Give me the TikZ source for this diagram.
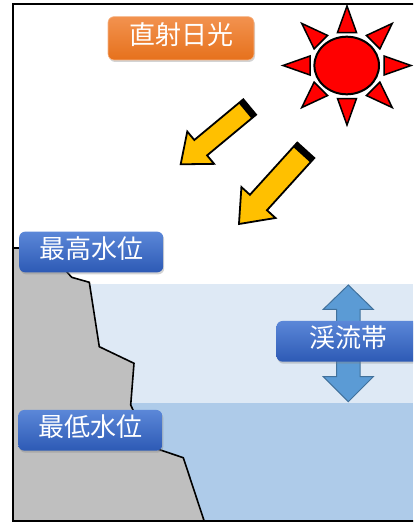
\documentclass[tikz,border=0pt]{standalone}
\usepackage{fontspec}
\newfontfamily\jpfont{Noto Sans CJK JP}
\usetikzlibrary{shadows}

\definecolor{waterlight}{HTML}{DEE9F5}
\definecolor{waterdark}{HTML}{AECBE9}
\definecolor{rock}{HTML}{BFBFBF}
\definecolor{tagtop}{HTML}{5B87D8}
\definecolor{tagbot}{HTML}{2D5AB5}
\definecolor{sunsetop}{HTML}{F2924F}
\definecolor{sunsetbot}{HTML}{E6711C}
\definecolor{rayyellow}{HTML}{FFC000}
\definecolor{flowfill}{HTML}{5B9BD5}
\definecolor{flowline}{HTML}{41719C}

\begin{document}
\begin{tikzpicture}[x=1pt,y=1pt,
  tag/.style={rounded corners=6pt, minimum width=144pt, minimum height=40.7pt,
    inner sep=0pt, text=white, font=\jpfont\fontsize{26}{26}\selectfont,
    text height=18pt, text depth=6pt,
    drop shadow={shadow xshift=1pt, shadow yshift=-2pt, opacity=0.35}},
  bluetag/.style={tag, top color=tagtop, bottom color=tagbot},
  orangetag/.style={tag, top color=sunsetop, bottom color=sunsetbot,
    draw=sunsetop!70!white, line width=0.6pt},
  ray/.style={fill=rayyellow, draw=black, line width=1.8pt, line join=miter},
  sunray/.style={fill=red, draw=black, line width=1.5pt, line join=miter},
  flow/.style={fill=flowfill, draw=flowline, line width=1pt, line join=miter},
]
\useasboundingbox (0,0) rectangle (413,-522);
\clip (0,0) rectangle (413,-522);

% water bands
\fill[waterlight] (12,-284) rectangle (413,-403);
\fill[waterdark] (12,-403) rectangle (413,-521);

% rock face
\fill[rock] (12,-248) -- (48,-248) -- (66.7,-271.7) -- (71.7,-277.3) -- (89.3,-282.3)
  -- (99.3,-346.7) -- (134,-363.3) -- (130.7,-405) -- (150,-446) -- (158.3,-449.3)
  -- (183.3,-457.7) -- (204,-520.5) -- (12,-520.5) -- cycle;
\draw[line width=1.6pt, line join=miter] (12,-248) -- (48,-248) -- (66.7,-271.7) -- (71.7,-277.3) -- (89.3,-282.3)
  -- (99.3,-346.7) -- (134,-363.3) -- (130.7,-405) -- (150,-446) -- (158.3,-449.3)
  -- (183.3,-457.7) -- (204,-520.5);

% range of the stream zone
\filldraw[flow] (348.3,-285) -- (373.3,-309.3) -- (360,-309.3) -- (360,-376.7)
  -- (373.3,-376.7) -- (348.3,-401.7) -- (323.3,-376.7) -- (336.7,-376.7)
  -- (336.7,-309.3) -- (323.3,-309.3) -- cycle;

% labels
\node[orangetag, minimum width=146pt, minimum height=43.3pt] (sunlight) at (181,-38.3) {直射日光};
\node[bluetag] (highwater) at (91.2,-252) {最高水位};
\node[bluetag] (lowwater) at (90.3,-430.3) {最低水位};
\node[bluetag] (zone) at (348.5,-341.3) {渓流帯};

% sun
\foreach \a/\ra/\rb in {0/64/37, 45/64/37, 90/59.5/33, 135/64/37, 180/64/37, 225/64/37, 270/59.5/33, 315/64/37}{
  \filldraw[sunray]
    ({347+64*cos(\a)},{-65.5+59.5*sin(\a)})
    -- ({347+37*cos(\a)-9.5*sin(\a)},{-65.5+33*sin(\a)+9.5*cos(\a)})
    -- ({347+37*cos(\a)+9.5*sin(\a)},{-65.5+33*sin(\a)-9.5*cos(\a)}) -- cycle;
}
\filldraw[fill=red, draw=black, line width=2pt] (346.7,-65.5) ellipse [x radius=32.3, y radius=28.8];

% sun rays
\begin{scope}[shift={(249.7,-107)}, rotate=219.7]
  \filldraw[ray] (0,-10) -- (63.7,-10) -- (63.7,-21) -- (89.7,0) -- (63.7,21) -- (63.7,10) -- (0,10) -- cycle;
  \fill (0,-10) rectangle (6,10);
\end{scope}
\begin{scope}[shift={(305.8,-150.3)}, rotate=227.8]
  \filldraw[ray] (0,-11.5) -- (70.5,-11.5) -- (70.5,-23) -- (99.5,0) -- (70.5,23) -- (70.5,11.5) -- (0,11.5) -- cycle;
  \fill (0,-11.5) rectangle (6,11.5);
\end{scope}

% frame
\draw[line width=2pt] (414,-3.5) -- (12.5,-3.5) -- (12.5,-520.5) -- (414,-520.5);
\end{tikzpicture}
\end{document}
